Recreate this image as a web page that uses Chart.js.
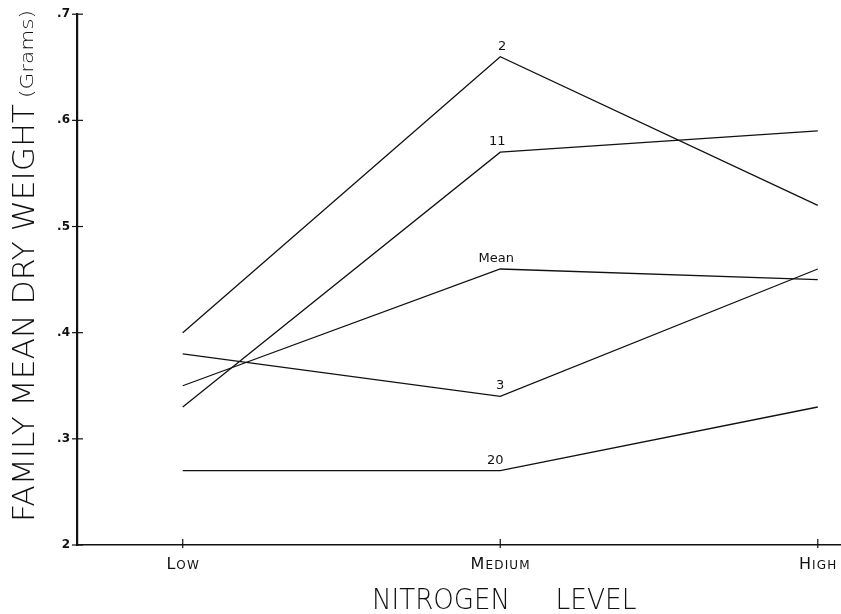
<!DOCTYPE html>
<html>
<head>
<meta charset="utf-8">
<script src="https://cdn.jsdelivr.net/npm/chart.js@4.4.1/dist/chart.umd.min.js"></script>
<style>
  html, body { margin: 0; padding: 0; background: #fff; }
  #wrap { width: 841px; height: 614px; }
</style>
</head>
<body>
<div id="wrap"><canvas id="c" width="841" height="614"></canvas></div>
<script>
// nitrogen levels (x = 1, 2, 3)
const levels = ["Low", "Medium", "High"];
const levelPos = [1, 2, 3];

// family means (grams)
const fam2 = [0.40, 0.66, 0.52];
const fam11 = [0.33, 0.57, 0.59];
const famMean = [0.35, 0.46, 0.45];
const fam3 = [0.38, 0.34, 0.46];
const fam20 = [0.27, 0.27, 0.33];

const seriesNames = ["2", "11", "Mean", "3", "20"];
const seriesData = [fam2, fam11, famMean, fam3, fam20];

const yTicks = [0.2, 0.3, 0.4, 0.5, 0.6, 0.7];
const yTickLabels = ["2", ".3", ".4", ".5", ".6", ".7"];

const toPts = arr => arr.map((v, i) => ({ x: levelPos[i], y: v }));

const datasets = seriesData.map((arr, i) => ({
  label: seriesNames[i],
  data: toPts(arr),
  borderColor: "#111",
  borderWidth: 1.3,
  pointRadius: 0,
  tension: 0,
  fill: false,
}));

// series names just above the Medium point, axis titles, small-caps ticks
const decor = {
  id: "decor",
  afterDraw(chart) {
    const { ctx, scales } = chart;
    const xs = scales.x, ys = scales.y;
    ctx.save();
    ctx.fillStyle = "#111";
    ctx.strokeStyle = "#111";

    // tick marks crossing the axes
    ctx.lineWidth = 1.2;
    yTicks.forEach(v => {
      const py = ys.getPixelForValue(v);
      ctx.beginPath();
      ctx.moveTo(xs.left - 5, py);
      ctx.lineTo(xs.left + 6, py);
      ctx.stroke();
    });
    levelPos.forEach(v => {
      const px = xs.getPixelForValue(v);
      ctx.beginPath();
      ctx.moveTo(px, ys.bottom - 6);
      ctx.lineTo(px, ys.bottom + 3);
      ctx.stroke();
    });

    // series labels
    ctx.font = "13px 'DejaVu Sans'";
    ctx.textAlign = "center";
    ctx.textBaseline = "bottom";
    const dx = [2, -3, -4, 0, -5];
    seriesData.forEach((arr, i) => {
      const px = xs.getPixelForValue(levelPos[1]) + dx[i];
      const py = ys.getPixelForValue(arr[1]) - 4;
      ctx.fillText(seriesNames[i], px, py);
    });

    // x tick labels in small caps
    ctx.textBaseline = "alphabetic";
    levels.forEach((lab, i) => {
      const up = lab.toUpperCase();
      const first = up[0], rest = up.slice(1);
      ctx.font = "16px 'DejaVu Sans'";
      const w1 = ctx.measureText(first).width;
      ctx.font = "12px 'DejaVu Sans'";
      const w2 = ctx.measureText(rest).width + rest.length * 1.2;
      const total = w1 + w2;
      let x0 = xs.getPixelForValue(levelPos[i]) - total / 2;
      if (i === 2) x0 = Math.min(x0, chart.width - total - 1);
      const by = ys.bottom + 24;
      ctx.textAlign = "left";
      ctx.font = "16px 'DejaVu Sans'";
      ctx.fillText(first, x0, by);
      let cx = x0 + w1 + 1;
      ctx.font = "12px 'DejaVu Sans'";
      rest.split("").forEach(ch => {
        ctx.fillText(ch, cx, by);
        cx += ctx.measureText(ch).width + 1.2;
      });
    });

    // x axis title
    const drawFit = (txt, cx, cy, w, font) => {
      ctx.font = font;
      const m = ctx.measureText(txt).width;
      ctx.save();
      ctx.translate(cx, cy);
      ctx.scale(w / m, 1);
      ctx.textAlign = "center";
      ctx.fillText(txt, 0, 0);
      ctx.restore();
    };
    drawFit("NITROGEN", 441, 609, 138, "200 28px 'DejaVu Sans'");
    drawFit("LEVEL", 596, 609, 81, "200 28px 'DejaVu Sans'");

    // y axis title, rotated
    ctx.save();
    ctx.translate(34, 522);
    ctx.rotate(-Math.PI / 2);
    ctx.textAlign = "left";
    ctx.font = "200 31px 'DejaVu Sans'";
    const main = "FAMILY MEAN DRY WEIGHT";
    const mw = ctx.measureText(main).width;
    ctx.save();
    ctx.scale(418 / mw, 1);
    ctx.fillText(main, 0, 0);
    ctx.restore();
    ctx.font = "200 17px 'DejaVu Sans'";
    const gw = ctx.measureText("(Grams)").width;
    ctx.save();
    ctx.translate(424, -1);
    ctx.scale(88 / gw, 1);
    ctx.fillText("(Grams)", 0, 0);
    ctx.restore();
    ctx.restore();

    ctx.restore();
  }
};

new Chart(document.getElementById("c"), {
  type: "line",
  data: { datasets },
  options: {
    responsive: false,
    animation: false,
    layout: { padding: { top: 14, right: 1, left: 0, bottom: 0 } },
    plugins: { legend: { display: false }, tooltip: { enabled: false } },
    scales: {
      x: {
        type: "linear",
        min: 0.667,
        max: 3.07,
        afterBuildTicks: s => { s.ticks = levelPos.map(v => ({ value: v })); },
        afterFit: s => { s.height = 69; },
        ticks: { display: false },
        grid: { display: false, drawTicks: false },
        border: { display: true, color: "#111", width: 1.6 },
      },
      y: {
        type: "linear",
        min: 0.2,
        max: 0.7,
        afterBuildTicks: s => { s.ticks = yTicks.map(v => ({ value: v })); },
        afterFit: s => { s.width = 77; },
        ticks: {
          color: "#111",
          font: { family: "'DejaVu Sans'", size: 12, weight: "bold" },
          padding: 7,
          callback: (v) => yTickLabels[yTicks.findIndex(t => Math.abs(t - v) < 1e-6)],
        },
        grid: { display: false, drawTicks: false },
        border: { display: true, color: "#111", width: 2.2 },
      },
    },
  },
  plugins: [decor],
});
</script>
</body>
</html>
